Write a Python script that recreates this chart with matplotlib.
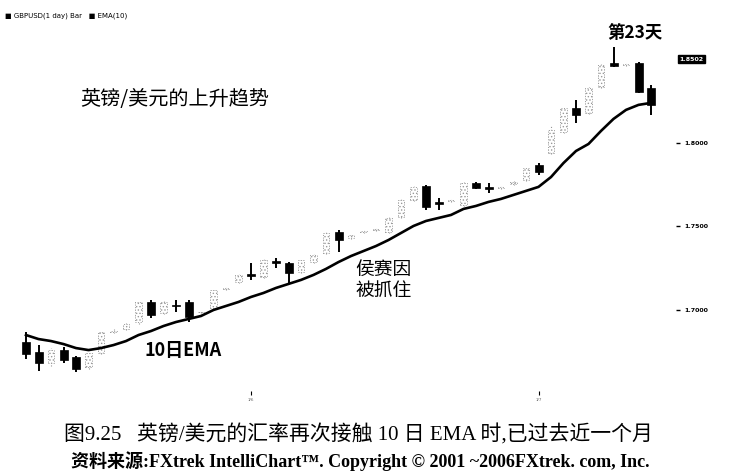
import numpy as np
import matplotlib.pyplot as plt
from matplotlib.patches import Rectangle

plt.rcParams['font.family'] = ['Noto Sans CJK SC', 'DejaVu Sans']
plt.rcParams['hatch.color'] = '#8c8c8c'
plt.rcParams['hatch.linewidth'] = 0.6

# GBP/USD daily bars
opens = [1.6808, 1.6749, 1.6683, 1.6760, 1.6719, 1.6659, 1.6743, 1.6870, 1.6886, 1.6928,
         1.7048, 1.6982, 1.7030, 1.7048, 1.6985, 1.7012, 1.7126, 1.7168, 1.7213, 1.7198,
         1.7290, 1.7281, 1.7228, 1.7287, 1.7341, 1.7467, 1.7431, 1.7464, 1.7476, 1.7467,
         1.7557, 1.7659, 1.7743, 1.7644, 1.7650, 1.7629, 1.7760, 1.7734, 1.7728, 1.7752,
         1.7778, 1.7868, 1.7940, 1.8066, 1.8210, 1.8180, 1.8335, 1.8479, 1.8464, 1.8479,
         1.8329]
highs = [1.6868, 1.6790, 1.6772, 1.6778, 1.6725, 1.6749, 1.6874, 1.6886, 1.6922, 1.7054,
         1.7060, 1.7054, 1.7060, 1.7060, 1.6994, 1.7126, 1.7138, 1.7216, 1.7281, 1.7305,
         1.7311, 1.7287, 1.7305, 1.7335, 1.7467, 1.7479, 1.7455, 1.7476, 1.7488, 1.7557,
         1.7665, 1.7743, 1.7749, 1.7671, 1.7662, 1.7766, 1.7766, 1.7760, 1.7743, 1.7770,
         1.7856, 1.7880, 1.8108, 1.8216, 1.8257, 1.8335, 1.8473, 1.8575, 1.8476, 1.8485,
         1.8347]
lows = [1.6707, 1.6635, 1.6665, 1.6683, 1.6629, 1.6647, 1.6737, 1.6862, 1.6880, 1.6916,
        1.6952, 1.6976, 1.6988, 1.6928, 1.6980, 1.7006, 1.7120, 1.7162, 1.7180, 1.7192,
        1.7251, 1.7162, 1.7222, 1.7281, 1.7335, 1.7347, 1.7425, 1.7458, 1.7470, 1.7461,
        1.7551, 1.7653, 1.7599, 1.7599, 1.7644, 1.7623, 1.7725, 1.7701, 1.7722, 1.7746,
        1.7772, 1.7808, 1.7934, 1.8060, 1.8120, 1.8174, 1.8329, 1.8455, 1.8458, 1.8299,
        1.8168]
closes = [1.6737, 1.6683, 1.6760, 1.6701, 1.6647, 1.6743, 1.6868, 1.6876, 1.6916, 1.7048,
          1.6970, 1.7048, 1.7024, 1.6958, 1.6990, 1.7120, 1.7132, 1.7210, 1.7207, 1.7299,
          1.7284, 1.7222, 1.7299, 1.7329, 1.7461, 1.7419, 1.7449, 1.7470, 1.7482, 1.7551,
          1.7659, 1.7737, 1.7617, 1.7638, 1.7656, 1.7760, 1.7731, 1.7728, 1.7737, 1.7764,
          1.7850, 1.7826, 1.8078, 1.8210, 1.8168, 1.8329, 1.8467, 1.8461, 1.8470, 1.8305,
          1.8228]
ema10 = [1.6850, 1.6826, 1.6814, 1.6796, 1.6772, 1.6760, 1.6772, 1.6790, 1.6814, 1.6850,
         1.6874, 1.6904, 1.6928, 1.6946, 1.6964, 1.7000, 1.7024, 1.7048, 1.7078, 1.7102,
         1.7132, 1.7156, 1.7180, 1.7210, 1.7246, 1.7287, 1.7323, 1.7353, 1.7383, 1.7419,
         1.7461, 1.7503, 1.7533, 1.7551, 1.7569, 1.7605, 1.7623, 1.7647, 1.7665, 1.7689,
         1.7713, 1.7737, 1.7796, 1.7880, 1.7952, 1.7994, 1.8072, 1.8144, 1.8198, 1.8228,
         1.8240]
ytick_vals = [1.7000, 1.7500, 1.8000]
last_price = 1.8502
date_ticks = [18, 41]
date_labels = ['1/6', '1/7']

W, H = 735, 474
fig = plt.figure(figsize=(W / 100, H / 100), dpi=100)
ax = fig.add_axes([0, 79 / H, 676 / W, 395 / H])

x = np.arange(len(opens))
for i in x:
    o, h, l, c = opens[i], highs[i], lows[i], closes[i]
    if c > o:
        # rising day: hollow, faint grey box
        ax.vlines(i, l, h, color='#999999', lw=0.8, linestyles=':', zorder=1)
        ax.add_patch(Rectangle((i - 0.25, o), 0.5, c - o, facecolor='white',
                               edgecolor='#999999', hatch='.....', lw=0.7,
                               linestyle=':', zorder=2))
    else:
        ax.vlines(i, l, h, color='black', lw=1.4, zorder=3)
        body = max(o - c, 0.0009)
        ax.add_patch(Rectangle((i - 0.32, c - (body - (o - c)) / 2), 0.64, body,
                               facecolor='black', edgecolor='black', lw=0.5, zorder=4))

ax.plot(x, ema10, color='black', lw=1.9, zorder=5)

ax.set_xlim(-2.08, 52.0)
ax.set_ylim(1.6491, 1.8856)
for s in ax.spines.values():
    s.set_visible(False)
ax.yaxis.tick_right()
ax.set_yticks(ytick_vals)
ax.set_yticklabels(['%.4f' % v for v in ytick_vals], fontsize=4.5,
                   fontweight='bold', family='DejaVu Sans')
ax.tick_params(axis='y', length=3, width=1, pad=3)
ax.set_xticks(date_ticks)
ax.set_xticklabels(date_labels, fontsize=3, color='#666666', family='DejaVu Sans')
ax.tick_params(axis='x', length=3, width=0.8, direction='in', pad=2)

# last price marker
ax.text(1.005, (last_price - 1.6491) / (1.8856 - 1.6491), '1.8502', transform=ax.transAxes,
        fontsize=4.5, color='white', fontweight='bold', family='DejaVu Sans',
        va='center', ha='left',
        bbox=dict(boxstyle='square,pad=0.3', fc='black', ec='black'))

fig.text(5 / W, 1 - 16 / H, '■ GBPUSD(1 day) Bar   ■ EMA(10)', fontsize=5,
         family='DejaVu Sans', va='center')

fig.text(80 / W, 1 - 100 / H, '英镑/美元的上升趋势', fontsize=14.5, va='center')
fig.text(607 / W, 1 - 33 / H, '第23天', fontsize=12.5, fontweight='bold', va='center')
fig.text(355 / W, 1 - 280 / H, '侯赛因\n被抓住', fontsize=13.5, va='center',
         linespacing=1.05)
fig.text(145 / W, 1 - 350 / H, '10日EMA', fontsize=13, fontweight='bold', va='center')

serif = ['Liberation Serif', 'Noto Sans CJK SC']
fig.text(0.488, 1 - 435 / H, '图9.25   英镑/美元的汇率再次接触 10 日 EMA 时,已过去近一个月',
         fontsize=15, family=serif, ha='center', va='center')
fig.text(0.490, 1 - 461 / H,
         '资料来源:FXtrek IntelliChart™. Copyright © 2001 ~2006FXtrek. com, Inc.',
         fontsize=13, family=serif, fontweight='bold', ha='center', va='center')

fig.savefig('out.png', dpi=100)
